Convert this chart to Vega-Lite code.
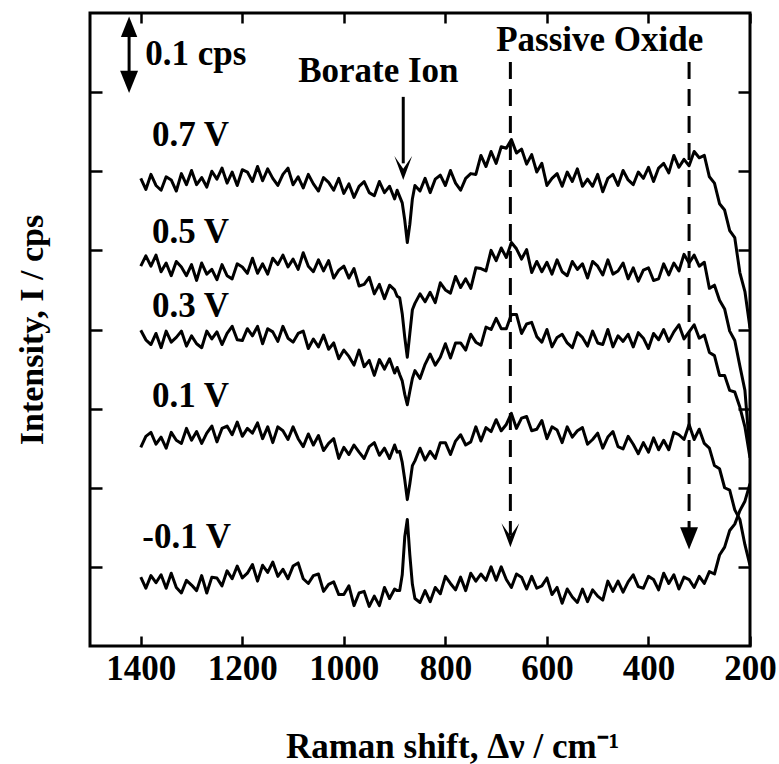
{
"$schema":"https://vega.github.io/schema/vega-lite/v6.json",
"width":660,"height":633,
"autosize":{"type":"none"},
"padding":{"left":90,"top":13,"right":29,"bottom":118},
"background":"white",
"config":{"view":{"stroke":"black","strokeWidth":3},"font":"Liberation Serif"},
"resolve":{"axis":{"x":"independent","y":"independent"}},
"layer":[
{"data":{"values":[
{"x":1400,"a":0.591,"b":0.480,"c":0.399,"d":0.251,"e":0.087},
{"x":1390,"a":0.577,"b":0.493,"c":0.387,"d":0.265,"e":0.073},
{"x":1380,"a":0.596,"b":0.480,"c":0.381,"d":0.270,"e":0.089},
{"x":1370,"a":0.582,"b":0.494,"c":0.395,"d":0.255,"e":0.080},
{"x":1360,"a":0.576,"b":0.473,"c":0.377,"d":0.264,"e":0.090},
{"x":1350,"a":0.593,"b":0.484,"c":0.398,"d":0.250,"e":0.073},
{"x":1340,"a":0.589,"b":0.468,"c":0.384,"d":0.270,"e":0.092},
{"x":1330,"a":0.575,"b":0.486,"c":0.390,"d":0.260,"e":0.074},
{"x":1320,"a":0.597,"b":0.479,"c":0.398,"d":0.256,"e":0.067},
{"x":1310,"a":0.583,"b":0.468,"c":0.379,"d":0.275,"e":0.083},
{"x":1300,"a":0.601,"b":0.482,"c":0.392,"d":0.260,"e":0.077},
{"x":1290,"a":0.583,"b":0.462,"c":0.382,"d":0.271,"e":0.070},
{"x":1280,"a":0.592,"b":0.484,"c":0.377,"d":0.256,"e":0.089},
{"x":1270,"a":0.580,"b":0.470,"c":0.398,"d":0.269,"e":0.067},
{"x":1260,"a":0.600,"b":0.476,"c":0.388,"d":0.278,"e":0.087},
{"x":1250,"a":0.590,"b":0.463,"c":0.397,"d":0.258,"e":0.086},
{"x":1240,"a":0.604,"b":0.482,"c":0.381,"d":0.275,"e":0.076},
{"x":1230,"a":0.585,"b":0.468,"c":0.395,"d":0.278,"e":0.095},
{"x":1220,"a":0.599,"b":0.464,"c":0.404,"d":0.267,"e":0.085},
{"x":1210,"a":0.582,"b":0.483,"c":0.387,"d":0.283,"e":0.101},
{"x":1200,"a":0.602,"b":0.479,"c":0.386,"d":0.265,"e":0.086},
{"x":1190,"a":0.599,"b":0.471,"c":0.401,"d":0.275,"e":0.092},
{"x":1180,"a":0.587,"b":0.490,"c":0.392,"d":0.269,"e":0.103},
{"x":1170,"a":0.606,"b":0.471,"c":0.404,"d":0.282,"e":0.082},
{"x":1160,"a":0.588,"b":0.483,"c":0.382,"d":0.262,"e":0.102},
{"x":1150,"a":0.603,"b":0.470,"c":0.401,"d":0.277,"e":0.093},
{"x":1140,"a":0.591,"b":0.490,"c":0.397,"d":0.257,"e":0.106},
{"x":1130,"a":0.582,"b":0.482,"c":0.385,"d":0.277,"e":0.088},
{"x":1120,"a":0.596,"b":0.494,"c":0.404,"d":0.272,"e":0.097},
{"x":1110,"a":0.604,"b":0.479,"c":0.389,"d":0.261,"e":0.085},
{"x":1100,"a":0.583,"b":0.489,"c":0.384,"d":0.277,"e":0.101},
{"x":1090,"a":0.593,"b":0.476,"c":0.395,"d":0.262,"e":0.105},
{"x":1080,"a":0.579,"b":0.497,"c":0.398,"d":0.252,"e":0.085},
{"x":1070,"a":0.596,"b":0.480,"c":0.376,"d":0.268,"e":0.079},
{"x":1060,"a":0.584,"b":0.473,"c":0.388,"d":0.254,"e":0.089},
{"x":1050,"a":0.575,"b":0.488,"c":0.378,"d":0.266,"e":0.091},
{"x":1040,"a":0.592,"b":0.474,"c":0.393,"d":0.247,"e":0.069},
{"x":1030,"a":0.586,"b":0.487,"c":0.375,"d":0.256,"e":0.078},
{"x":1020,"a":0.576,"b":0.465,"c":0.383,"d":0.262,"e":0.081},
{"x":1010,"a":0.591,"b":0.475,"c":0.363,"d":0.237,"e":0.065},
{"x":1000,"a":0.572,"b":0.480,"c":0.374,"d":0.251,"e":0.065},
{"x":990,"a":0.584,"b":0.465,"c":0.366,"d":0.242,"e":0.076},
{"x":980,"a":0.567,"b":0.477,"c":0.355,"d":0.254,"e":0.051},
{"x":970,"a":0.581,"b":0.455,"c":0.374,"d":0.245,"e":0.067},
{"x":960,"a":0.587,"b":0.457,"c":0.353,"d":0.237,"e":0.069},
{"x":950,"a":0.573,"b":0.466,"c":0.361,"d":0.252,"e":0.050},
{"x":940,"a":0.569,"b":0.445,"c":0.342,"d":0.257,"e":0.063},
{"x":930,"a":0.587,"b":0.457,"c":0.362,"d":0.241,"e":0.051},
{"x":920,"a":0.573,"b":0.439,"c":0.350,"d":0.250,"e":0.074},
{"x":910,"a":0.581,"b":0.456,"c":0.363,"d":0.237,"e":0.060},
{"x":900,"a":0.565,"b":0.450,"c":0.345,"d":0.254,"e":0.072},
{"x":895,"a":0.576,"b":0.442,"c":0.352,"d":0.245,"e":0.070},
{"x":890,"a":0.568,"b":0.440,"c":0.343,"d":0.246,"e":0.070},
{"x":885,"a":0.560,"b":0.420,"c":0.335,"d":0.232,"e":0.090},
{"x":880,"a":0.538,"b":0.390,"c":0.318,"d":0.210,"e":0.138},
{"x":875,"a":0.510,"b":0.365,"c":0.305,"d":0.185,"e":0.160},
{"x":870,"a":0.533,"b":0.395,"c":0.322,"d":0.205,"e":0.115},
{"x":865,"a":0.565,"b":0.425,"c":0.338,"d":0.228,"e":0.078},
{"x":860,"a":0.582,"b":0.433,"c":0.348,"d":0.234,"e":0.060},
{"x":850,"a":0.575,"b":0.445,"c":0.338,"d":0.250,"e":0.055},
{"x":840,"a":0.591,"b":0.435,"c":0.356,"d":0.235,"e":0.070},
{"x":830,"a":0.573,"b":0.447,"c":0.369,"d":0.246,"e":0.056},
{"x":820,"a":0.590,"b":0.434,"c":0.355,"d":0.237,"e":0.074},
{"x":810,"a":0.595,"b":0.459,"c":0.365,"d":0.257,"e":0.066},
{"x":800,"a":0.582,"b":0.450,"c":0.382,"d":0.257,"e":0.088},
{"x":790,"a":0.601,"b":0.446,"c":0.364,"d":0.242,"e":0.079},
{"x":780,"a":0.585,"b":0.467,"c":0.383,"d":0.259,"e":0.071},
{"x":770,"a":0.576,"b":0.453,"c":0.383,"d":0.267,"e":0.087},
{"x":760,"a":0.591,"b":0.464,"c":0.374,"d":0.254,"e":0.070},
{"x":750,"a":0.597,"b":0.452,"c":0.394,"d":0.258,"e":0.092},
{"x":740,"a":0.596,"b":0.478,"c":0.384,"d":0.277,"e":0.082},
{"x":730,"a":0.620,"b":0.477,"c":0.380,"d":0.259,"e":0.091},
{"x":720,"a":0.606,"b":0.474,"c":0.403,"d":0.276,"e":0.083},
{"x":710,"a":0.625,"b":0.500,"c":0.400,"d":0.271,"e":0.100},
{"x":700,"a":0.610,"b":0.487,"c":0.414,"d":0.286,"e":0.083},
{"x":690,"a":0.631,"b":0.503,"c":0.401,"d":0.272,"e":0.100},
{"x":680,"a":0.629,"b":0.491,"c":0.401,"d":0.280,"e":0.084},
{"x":670,"a":0.640,"b":0.510,"c":0.419,"d":0.294,"e":0.074},
{"x":660,"a":0.623,"b":0.502,"c":0.419,"d":0.275,"e":0.091},
{"x":650,"a":0.628,"b":0.489,"c":0.395,"d":0.288,"e":0.087},
{"x":640,"a":0.609,"b":0.501,"c":0.407,"d":0.290,"e":0.072},
{"x":630,"a":0.621,"b":0.472,"c":0.409,"d":0.272,"e":0.088},
{"x":620,"a":0.599,"b":0.486,"c":0.391,"d":0.274,"e":0.073},
{"x":610,"a":0.610,"b":0.473,"c":0.384,"d":0.285,"e":0.076},
{"x":600,"a":0.582,"b":0.485,"c":0.400,"d":0.262,"e":0.086},
{"x":590,"a":0.591,"b":0.470,"c":0.378,"d":0.277,"e":0.065},
{"x":580,"a":0.597,"b":0.488,"c":0.390,"d":0.273,"e":0.074},
{"x":570,"a":0.581,"b":0.473,"c":0.394,"d":0.257,"e":0.054},
{"x":560,"a":0.599,"b":0.468,"c":0.383,"d":0.277,"e":0.072},
{"x":550,"a":0.587,"b":0.486,"c":0.377,"d":0.264,"e":0.062},
{"x":540,"a":0.603,"b":0.476,"c":0.396,"d":0.272,"e":0.055},
{"x":530,"a":0.581,"b":0.483,"c":0.390,"d":0.276,"e":0.072},
{"x":520,"a":0.590,"b":0.465,"c":0.379,"d":0.255,"e":0.056},
{"x":510,"a":0.581,"b":0.486,"c":0.398,"d":0.261,"e":0.071},
{"x":500,"a":0.596,"b":0.480,"c":0.383,"d":0.269,"e":0.063},
{"x":490,"a":0.574,"b":0.469,"c":0.381,"d":0.250,"e":0.058},
{"x":480,"a":0.591,"b":0.488,"c":0.400,"d":0.264,"e":0.082},
{"x":470,"a":0.596,"b":0.470,"c":0.378,"d":0.271,"e":0.069},
{"x":460,"a":0.582,"b":0.474,"c":0.392,"d":0.252,"e":0.082},
{"x":450,"a":0.601,"b":0.484,"c":0.385,"d":0.249,"e":0.068},
{"x":440,"a":0.589,"b":0.464,"c":0.394,"d":0.265,"e":0.081},
{"x":430,"a":0.583,"b":0.478,"c":0.378,"d":0.255,"e":0.090},
{"x":420,"a":0.599,"b":0.461,"c":0.396,"d":0.243,"e":0.075},
{"x":410,"a":0.591,"b":0.475,"c":0.389,"d":0.257,"e":0.073},
{"x":400,"a":0.605,"b":0.478,"c":0.376,"d":0.245,"e":0.088},
{"x":390,"a":0.587,"b":0.462,"c":0.395,"d":0.263,"e":0.084},
{"x":380,"a":0.604,"b":0.464,"c":0.387,"d":0.248,"e":0.071},
{"x":370,"a":0.610,"b":0.483,"c":0.400,"d":0.260,"e":0.092},
{"x":360,"a":0.598,"b":0.469,"c":0.385,"d":0.248,"e":0.079},
{"x":350,"a":0.620,"b":0.484,"c":0.397,"d":0.270,"e":0.090},
{"x":340,"a":0.605,"b":0.474,"c":0.406,"d":0.267,"e":0.072},
{"x":330,"a":0.615,"b":0.495,"c":0.388,"d":0.261,"e":0.087},
{"x":320,"a":0.607,"b":0.484,"c":0.397,"d":0.280,"e":0.084},
{"x":310,"a":0.625,"b":0.494,"c":0.406,"d":0.261,"e":0.074},
{"x":300,"a":0.617,"b":0.480,"c":0.389,"d":0.274,"e":0.088},
{"x":290,"a":0.620,"b":0.485,"c":0.393,"d":0.256,"e":0.079},
{"x":280,"a":0.593,"b":0.452,"c":0.371,"d":0.250,"e":0.094},
{"x":270,"a":0.585,"b":0.456,"c":0.367,"d":0.228,"e":0.091},
{"x":260,"a":0.559,"b":0.437,"c":0.342,"d":0.224,"e":0.115},
{"x":250,"a":0.551,"b":0.426,"c":0.342,"d":0.200,"e":0.125},
{"x":240,"a":0.525,"b":0.398,"c":0.323,"d":0.197,"e":0.146},
{"x":230,"a":0.516,"b":0.386,"c":0.321,"d":0.172,"e":0.154},
{"x":220,"a":0.472,"b":0.354,"c":0.302,"d":0.160,"e":0.171},
{"x":210,"a":0.448,"b":0.323,"c":0.277,"d":0.128,"e":0.183},
{"x":200,"a":0.402,"b":0.243,"c":0.238,"d":0.102,"e":0.205}
]},
"transform":[{"fold":["a","b","c","d","e"],"as":["s","y"]}],
"mark":{"type":"line","color":"black","strokeWidth":3,"strokeJoin":"round","clip":true},
"encoding":{
"x":{"field":"x","type":"quantitative","scale":{"domain":[200,1500],"reverse":true,"nice":false,"zero":false},
"axis":{"orient":"bottom","values":[200,400,600,800,1000,1200,1400],"format":"d","tickSize":-10,"tickWidth":2.5,"tickColor":"black","domain":false,"grid":false,"labelFont":"Liberation Serif","labelFontSize":35,"labelFontWeight":"bold","labelColor":"black","labelPadding":15,"labelFlush":false,"labelOverlap":false,"title":"Raman shift, Δν / cm⁻¹","titleFont":"Liberation Serif","titleFontSize":35,"titleFontWeight":"bold","titleColor":"black","titleX":362,"titleY":100,"titleBaseline":"middle"}},
"y":{"field":"y","type":"quantitative","scale":{"domain":[0,0.8],"nice":false,"zero":false},
"axis":{"orient":"left","values":[0.1,0.2,0.3,0.4,0.5,0.6,0.7],"tickSize":-12,"tickWidth":2.5,"tickColor":"black","labels":false,"domain":false,"grid":false,"title":"Intensity, I / cps","titleFont":"Liberation Serif","titleFontSize":34,"titleFontWeight":"bold","titleColor":"black","titleX":-58,"titleBaseline":"middle"}},
"detail":{"field":"s"}}},
{"data":{"values":[{"x":672,"y":0.738,"y2":0.14},{"x":320,"y":0.738,"y2":0.145}]},
"mark":{"type":"rule","color":"black","strokeWidth":3,"strokeDash":[17,10]},
"encoding":{
"x":{"field":"x","type":"quantitative","axis":{"orient":"top","values":[200,400,600,800,1000,1200,1400],"tickSize":-10,"tickWidth":2.5,"tickColor":"black","labels":false,"domain":false,"grid":false,"title":null}},
"y":{"field":"y","type":"quantitative","axis":{"orient":"right","values":[0.1,0.2,0.3,0.4,0.5,0.6,0.7],"tickSize":-12,"tickWidth":2.5,"tickColor":"black","labels":false,"domain":false,"grid":false,"title":null}},
"y2":{"field":"y2"}}},
{"data":{"values":[{"x":883,"y":0.694,"y2":0.61},{"x":1423,"y":0.775,"y2":0.72}]},
"mark":{"type":"rule","color":"black","strokeWidth":3},
"encoding":{"x":{"field":"x","type":"quantitative","axis":null},"y":{"field":"y","type":"quantitative","axis":null},"y2":{"field":"y2"}}},
{"data":{"values":[{"x":883,"y":0.604},{"x":672,"y":0.140}]},
"mark":{"type":"point","filled":true,"color":"black","opacity":1,"size":576,"shape":"M-0.74,-1 L0,1 L0.74,-1 L0,0.05 Z"},
"encoding":{"x":{"field":"x","type":"quantitative","axis":null},"y":{"field":"y","type":"quantitative","axis":null}}},
{"data":{"values":[{"x":320,"y":0.136},{"x":1423,"y":0.713}]},
"mark":{"type":"point","filled":true,"color":"black","opacity":1,"size":500,"shape":"M-0.8,-1 L0.8,-1 L0,1 Z"},
"encoding":{"x":{"field":"x","type":"quantitative","axis":null},"y":{"field":"y","type":"quantitative","axis":null}}},
{"data":{"values":[{"x":1423,"y":0.7826}]},
"mark":{"type":"point","filled":true,"color":"black","opacity":1,"size":420,"shape":"M0,-1 L0.8,1 L-0.8,1 Z"},
"encoding":{"x":{"field":"x","type":"quantitative","axis":null},"y":{"field":"y","type":"quantitative","axis":null}}},
{"data":{"values":[
{"t":"0.7 V","x":1378,"y":0.646},
{"t":"0.5 V","x":1378,"y":0.523},
{"t":"0.3 V","x":1378,"y":0.43},
{"t":"0.1 V","x":1378,"y":0.316},
{"t":"-0.1 V","x":1397,"y":0.138},
{"t":"0.1 cps","x":1391,"y":0.748}]},
"mark":{"type":"text","align":"left","baseline":"middle","font":"Liberation Serif","fontSize":35,"fontWeight":"bold","color":"black"},
"encoding":{"x":{"field":"x","type":"quantitative","axis":null},"y":{"field":"y","type":"quantitative","axis":null},"text":{"field":"t"}}},
{"data":{"values":[
{"t":"Borate Ion","x":932,"y":0.727},
{"t":"Passive Oxide","x":496,"y":0.766}]},
"mark":{"type":"text","align":"center","baseline":"middle","font":"Liberation Serif","fontSize":35,"fontWeight":"bold","color":"black"},
"encoding":{"x":{"field":"x","type":"quantitative","axis":null},"y":{"field":"y","type":"quantitative","axis":null},"text":{"field":"t"}}}
]
}
